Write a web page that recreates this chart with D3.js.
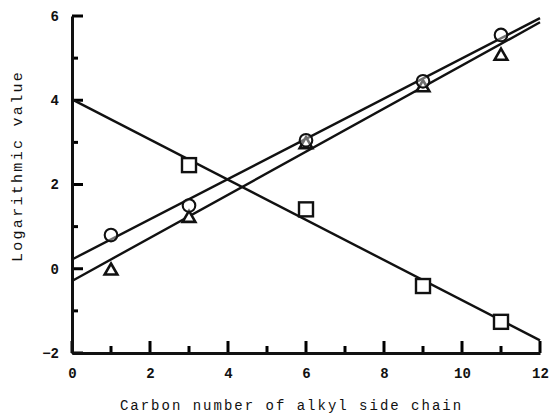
<!DOCTYPE html>
<html>
<head>
<meta charset="utf-8">
<script src="https://cdn.jsdelivr.net/npm/d3@7"></script>
<style>
  body { margin: 0; background: #fff; }
  svg text { fill: #111; }
</style>
</head>
<body>
<div class="chart"></div>
<script>
// carbon number of the alkyl side chain
var carbon = [1, 3, 6, 9, 11];
var circleVals = [0.8, 1.5, 3.05, 4.45, 5.55];
var triangleVals = [-0.05, 1.2, 2.95, 4.3, 5.05];
var squareCarbon = [3, 6, 9, 11];
var squareVals = [2.46, 1.41, -0.41, -1.26];
// fitted straight lines, values at x = 0 and x = 12
var fitX = [0, 12];
var circleFit = [0.22, 5.95];
var triangleFit = [-0.29, 5.85];
var squareFit = [4.02, -1.7];

var xMajor = [0, 2, 4, 6, 8, 10, 12];
var xMinor = [1, 3, 5, 7, 9, 11];
var yMajor = [-2, 0, 2, 4, 6];
var yMinor = [-1, 1, 3, 5];

var margin = {top: 16, right: 11, bottom: 60, left: 72},
    width = 551 - margin.left - margin.right,
    height = 413 - margin.top - margin.bottom;

var svg = d3.select(".chart").append("svg")
    .attr("width", 551)
    .attr("height", 413)
  .append("g")
    .attr("transform", "translate(" + margin.left + "," + margin.top + ")");

var x = d3.scaleLinear().domain([0, 12]).range([0, width]);
var y = d3.scaleLinear().domain([-2, 6]).range([height, 0]);

// inward ticks, drawn from the scales
var ticks = svg.append("g");

ticks.selectAll("line.xt")
    .data(xMajor.map(function(v) { return [v, 12]; }).concat(xMinor.map(function(v) { return [v, 7]; })))
  .enter().append("line")
    .attr("class", "xt")
    .attr("x1", function(d) { return x(d[0]); })
    .attr("x2", function(d) { return x(d[0]); })
    .attr("y1", height)
    .attr("y2", function(d) { return height - d[1]; })
    .style("stroke", "#000")
    .style("stroke-width", "3px");

ticks.selectAll("line.yt")
    .data(yMajor.map(function(v) { return [v, 11]; }).concat(yMinor.map(function(v) { return [v, 6]; })))
  .enter().append("line")
    .attr("class", "yt")
    .attr("x1", 0)
    .attr("x2", function(d) { return d[1]; })
    .attr("y1", function(d) { return y(d[0]); })
    .attr("y2", function(d) { return y(d[0]); })
    .style("stroke", "#000")
    .style("stroke-width", "3px");

// axes (labels + domain)
svg.append("g")
    .attr("transform", "translate(0," + height + ")")
    .call(d3.axisBottom(x).tickValues(xMajor).tickSize(0).tickPadding(15));
svg.append("g")
    .call(d3.axisLeft(y).tickValues(yMajor).tickSize(0).tickPadding(13));

svg.selectAll(".domain").attr("stroke", "#111").attr("stroke-width", 3);
svg.selectAll(".tick text")
    .style("font-family", "'Liberation Mono', monospace")
    .style("font-weight", "bold")
    .style("font-size", "14px");

// fitted lines
var line = d3.line()
    .x(function(d) { return x(d[0]); })
    .y(function(d) { return y(d[1]); });

[circleFit, triangleFit, squareFit].forEach(function(f) {
  svg.append("path")
      .datum(fitX.map(function(v, i) { return [v, f[i]]; }))
      .attr("fill", "none")
      .attr("stroke", "#111")
      .attr("stroke-width", 2.4)
      .attr("d", line);
});

// markers
svg.selectAll(".sq")
    .data(squareCarbon.map(function(c, i) { return [c, squareVals[i]]; }))
  .enter().append("rect")
    .attr("x", function(d) { return x(d[0]) - 7; })
    .attr("y", function(d) { return y(d[1]) - 7; })
    .attr("width", 14)
    .attr("height", 14)
    .attr("fill", "#fff")
    .attr("stroke", "#111")
    .attr("stroke-width", 2.4);

var tri = d3.symbol().type(d3.symbolTriangle).size(70);
svg.selectAll(".tri")
    .data(carbon.map(function(c, i) { return [c, triangleVals[i]]; }))
  .enter().append("path")
    .attr("transform", function(d) { return "translate(" + x(d[0]) + "," + y(d[1]) + ")"; })
    .attr("d", tri)
    .attr("fill", "#fff")
    .attr("stroke", "#111")
    .attr("stroke-width", 2.6);

svg.selectAll(".circ")
    .data(carbon.map(function(c, i) { return [c, circleVals[i]]; }))
  .enter().append("circle")
    .attr("cx", function(d) { return x(d[0]); })
    .attr("cy", function(d) { return y(d[1]); })
    .attr("r", 6.3)
    .attr("fill", "#fff")
    .attr("fill-opacity", 0.4)
    .attr("stroke", "#111")
    .attr("stroke-width", 2.1);

// axis titles
svg.append("text")
    .attr("x", (120 + 463) / 2 - margin.left)
    .attr("y", 410 - margin.top)
    .attr("text-anchor", "middle")
    .style("font-family", "'Liberation Mono', monospace")
    .style("font-size", "14px")
    .style("letter-spacing", "2px")
    .text("Carbon number of alkyl side chain");

svg.append("text")
    .attr("transform", "translate(" + (22 - margin.left) + "," + (166 - margin.top) + ") rotate(-90)")
    .attr("text-anchor", "middle")
    .style("font-family", "'Liberation Mono', monospace")
    .style("font-size", "15px")
    .style("letter-spacing", "2.3px")
    .text("Logarithmic value");
</script>
</body>
</html>
